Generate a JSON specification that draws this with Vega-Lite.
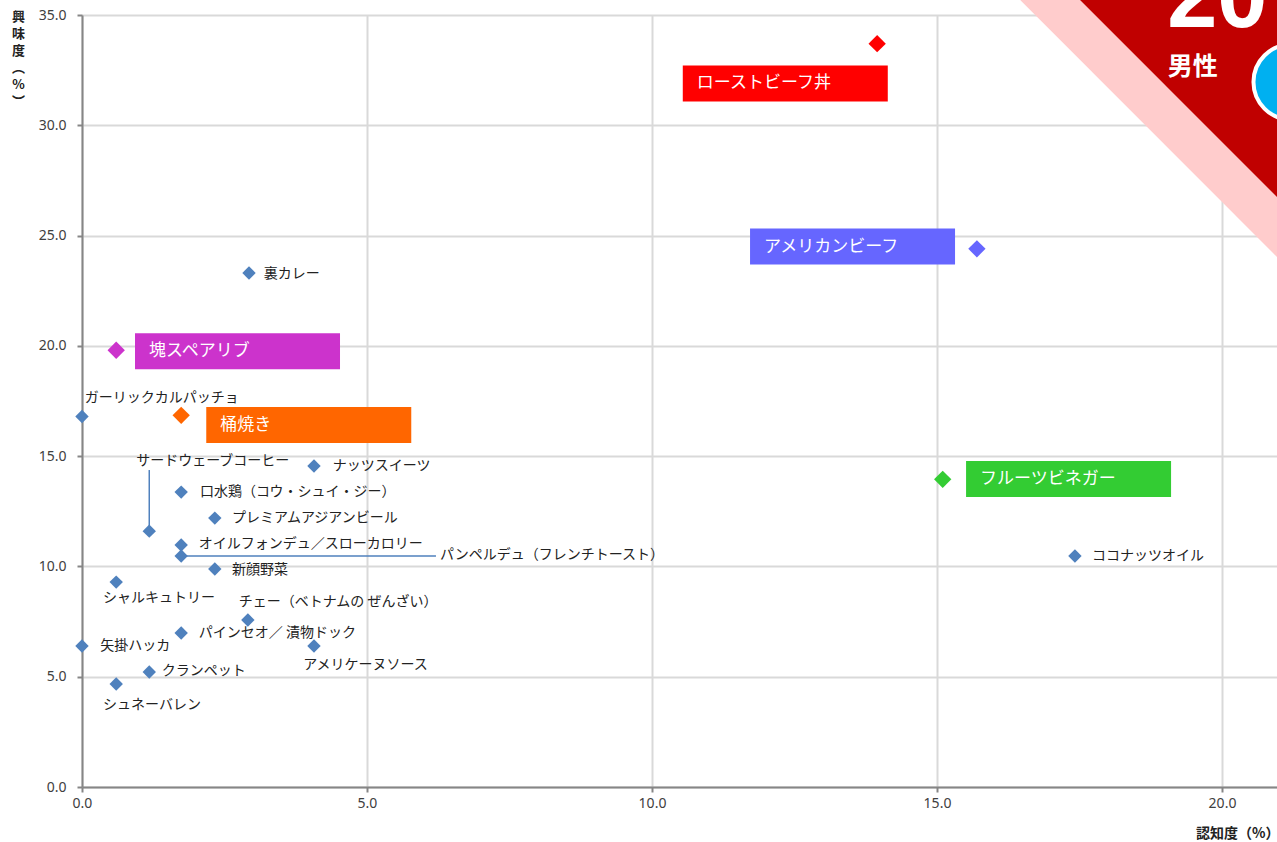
{
  "$schema": "https://vega.github.io/schema/vega-lite/v6.json",
  "autosize": "none",
  "padding": {"left": 82, "top": 15, "right": 0, "bottom": 55},
  "width": 1197,
  "height": 772,
  "background": "white",
  "config": {
    "view": {"stroke": null},
    "font": "Noto Sans CJK JP"
  },
  "datasets": {
    "items": [
      {"name": "ローストビーフ丼", "x": 13.95, "y": 33.7, "lx": 10.54, "ly": 31.9, "featured": true},
      {"name": "アメリカンビーフ", "x": 15.7, "y": 24.4, "lx": 11.72, "ly": 24.5, "featured": true},
      {"name": "裏カレー", "x": 2.93, "y": 23.3, "lx": 3.19, "ly": 23.25, "featured": false},
      {"name": "塊スペアリブ", "x": 0.6, "y": 19.8, "lx": 0.93, "ly": 19.76, "featured": true},
      {"name": "ガーリックカルパッチョ", "x": 0, "y": 16.8, "lx": 0.05, "ly": 17.63, "featured": false},
      {"name": "桶焼き", "x": 1.74, "y": 16.85, "lx": 2.18, "ly": 16.41, "featured": true},
      {"name": "ナッツスイーツ", "x": 4.07, "y": 14.55, "lx": 4.4, "ly": 14.55, "featured": false},
      {"name": "フルーツビネガー", "x": 15.1, "y": 13.95, "lx": 15.51, "ly": 13.96, "featured": true},
      {"name": "口水鶏（コウ・シュイ・ジー）", "x": 1.74, "y": 13.37, "lx": 2.07, "ly": 13.37, "featured": false},
      {"name": "プレミアムアジアンビール", "x": 2.33, "y": 12.19, "lx": 2.63, "ly": 12.19, "featured": false},
      {"name": "サードウェーブコーヒー", "x": 1.18, "y": 11.6, "lx": 0.95, "ly": 14.78, "featured": false},
      {"name": "オイルフォンデュ／スローカロリー", "x": 1.74, "y": 10.97, "lx": 2.05, "ly": 11.0, "featured": false},
      {"name": "パンペルデュ（フレンチトースト）", "x": 1.74, "y": 10.47, "lx": 6.28, "ly": 10.52, "featured": false},
      {"name": "新顔野菜", "x": 2.33, "y": 9.88, "lx": 2.63, "ly": 9.84, "featured": false},
      {"name": "ココナッツオイル", "x": 17.42, "y": 10.47, "lx": 17.72, "ly": 10.47, "featured": false},
      {"name": "シャルキュトリー", "x": 0.6, "y": 9.29, "lx": 0.37, "ly": 8.57, "featured": false},
      {"name": "チェー（ベトナムの ぜんざい）", "x": 2.91, "y": 7.57, "lx": 2.75, "ly": 8.39, "featured": false},
      {"name": "パインセオ／ 漬物ドック", "x": 1.74, "y": 6.98, "lx": 2.05, "ly": 6.98, "featured": false},
      {"name": "矢掛ハッカ", "x": 0, "y": 6.39, "lx": 0.32, "ly": 6.39, "featured": false},
      {"name": "アメリケーヌソース", "x": 4.07, "y": 6.39, "lx": 3.88, "ly": 5.53, "featured": false},
      {"name": "クランペット", "x": 1.18, "y": 5.21, "lx": 1.4, "ly": 5.26, "featured": false},
      {"name": "シュネーバレン", "x": 0.6, "y": 4.67, "lx": 0.37, "ly": 3.72, "featured": false}
    ],
    "leaders": [
      {"x": 1.18, "y": 11.6, "x2": 1.18, "y2": 14.37},
      {"x": 1.74, "y": 10.47, "x2": 6.21, "y2": 10.47}
    ],
    "banner": [
      {"part": "pink", "x": 16.46, "y": 35.68, "y2": 36.5},
      {"part": "pink", "x": 21.3, "y": 23.16, "y2": 36.5},
      {"part": "red", "x": 17.51, "y": 35.68, "y2": 36.5},
      {"part": "red", "x": 21.3, "y": 25.88, "y2": 36.5}
    ],
    "bannerText": [
      {"label": "20", "x": 19.04, "y": 34.45},
      {"label": "男性", "x": 19.05, "y": 32.64}
    ],
    "badge": [
      {"x": 21.21, "y": 31.96}
    ]
  },
  "encoding": {
    "x": {
      "type": "quantitative",
      "scale": {"domain": [0, 21], "nice": false, "zero": false},
      "axis": {
        "title": "認知度（%）",
        "values": [0, 5, 10, 15, 20],
        "format": ".1f",
        "grid": true,
        "gridColor": "#D9D9D9",
        "gridWidth": 2,
        "domainColor": "#868686",
        "domainWidth": 2,
        "tickColor": "#868686",
        "tickWidth": 2,
        "tickSize": 5,
        "labelFlush": false,
        "labelOverlap": false,
        "labelFont": "Noto Sans",
        "labelFontSize": 14,
        "labelColor": "#404040",
        "labelPadding": 4,
        "titleFont": "Noto Sans CJK JP",
        "titleFontSize": 14,
        "titleFontWeight": "bold",
        "titleColor": "#222222",
        "titleAnchor": "end",
        "titleAlign": "right",
        "titleBaseline": "middle",
        "titleX": 1197,
        "titleY": 46
      }
    },
    "y": {
      "type": "quantitative",
      "scale": {"domain": [0, 35], "nice": false, "zero": false},
      "axis": {
        "title": ["興", "味", "度", "︵", "%", "︶"],
        "values": [0, 5, 10, 15, 20, 25, 30, 35],
        "format": ".1f",
        "grid": true,
        "gridColor": "#D9D9D9",
        "gridWidth": 2,
        "domainColor": "#868686",
        "domainWidth": 2,
        "tickColor": "#868686",
        "tickWidth": 2,
        "tickSize": 5,
        "labelFlush": false,
        "labelOverlap": false,
        "labelFont": "Noto Sans",
        "labelFontSize": 14,
        "labelColor": "#404040",
        "labelPadding": 11,
        "titleFont": "Noto Sans CJK JP",
        "titleFontSize": 13,
        "titleFontWeight": "bold",
        "titleColor": "#222222",
        "titleAngle": 0,
        "titleAlign": "center",
        "titleBaseline": "top",
        "titleLineHeight": 17,
        "titleX": -64,
        "titleY": -5
      }
    }
  },
  "layer": [
    {
      "mark": {"type": "rule", "color": "#FF0000", "strokeWidth": 2},
      "encoding": {"y": {"datum": 12.74, "type": "quantitative"}}
    },
    {
      "mark": {"type": "rule", "color": "#FF0000", "strokeWidth": 2},
      "encoding": {"x": {"datum": 20, "type": "quantitative"}}
    },
    {
      "data": {"name": "leaders"},
      "mark": {"type": "rule", "color": "#4F81BD", "strokeWidth": 1.5},
      "encoding": {
        "x": {"field": "x", "type": "quantitative"},
        "y": {"field": "y", "type": "quantitative"},
        "x2": {"field": "x2"},
        "y2": {"field": "y2"}
      }
    },
    {
      "data": {"name": "items"},
      "transform": [{"filter": "!datum.featured"}],
      "mark": {"type": "point", "shape": "diamond", "filled": true, "opacity": 1, "color": "#4F81BD", "size": 180},
      "encoding": {
        "x": {"field": "x", "type": "quantitative"},
        "y": {"field": "y", "type": "quantitative"}
      }
    },
    {
      "data": {"name": "items"},
      "transform": [{"filter": "!datum.featured"}],
      "mark": {"type": "text", "align": "left", "baseline": "middle", "fontSize": 14, "color": "#222222", "font": "Noto Sans CJK JP"},
      "encoding": {
        "x": {"field": "lx", "type": "quantitative"},
        "y": {"field": "ly", "type": "quantitative"},
        "text": {"field": "name"}
      }
    },
    {
      "data": {"name": "items"},
      "transform": [{"filter": "datum.featured"}],
      "mark": {"type": "point", "shape": "diamond", "filled": true, "opacity": 1, "size": 300},
      "encoding": {
        "x": {"field": "x", "type": "quantitative"},
        "y": {"field": "y", "type": "quantitative"},
        "color": {
          "field": "name",
          "type": "nominal",
          "legend": null,
          "scale": {
            "domain": ["ローストビーフ丼", "アメリカンビーフ", "塊スペアリブ", "桶焼き", "フルーツビネガー"],
            "range": ["#FF0000", "#6666FF", "#CC33CC", "#FF6600", "#33CC33"]
          }
        }
      }
    },
    {
      "data": {"name": "items"},
      "transform": [{"filter": "datum.featured"}],
      "mark": {"type": "point", "shape": "M0,-0.1756L2,-0.1756L2,0.1756L0,0.1756Z", "filled": true, "opacity": 1, "size": 42025, "strokeWidth": 0},
      "encoding": {
        "x": {"field": "lx", "type": "quantitative"},
        "y": {"field": "ly", "type": "quantitative"},
        "color": {"field": "name", "type": "nominal", "legend": null}
      }
    },
    {
      "data": {"name": "items"},
      "transform": [{"filter": "datum.featured"}],
      "mark": {"type": "text", "align": "left", "baseline": "middle", "dx": 14, "fontSize": 17, "color": "white", "font": "Noto Sans CJK JP"},
      "encoding": {
        "x": {"field": "lx", "type": "quantitative"},
        "y": {"field": "ly", "type": "quantitative"},
        "text": {"field": "name"}
      }
    },
    {
      "data": {"name": "banner"},
      "transform": [{"filter": "datum.part === 'pink'"}],
      "mark": {"type": "area", "color": "#FFCCCC", "opacity": 1},
      "encoding": {
        "x": {"field": "x", "type": "quantitative"},
        "y": {"field": "y", "type": "quantitative"},
        "y2": {"field": "y2"}
      }
    },
    {
      "data": {"name": "banner"},
      "transform": [{"filter": "datum.part === 'red'"}],
      "mark": {"type": "area", "color": "#C00000", "opacity": 1},
      "encoding": {
        "x": {"field": "x", "type": "quantitative"},
        "y": {"field": "y", "type": "quantitative"},
        "y2": {"field": "y2"}
      }
    },
    {
      "data": {"name": "badge"},
      "mark": {"type": "point", "shape": "circle", "filled": true, "opacity": 1, "color": "#00B0F0", "stroke": "white", "strokeWidth": 4, "size": 5625},
      "encoding": {
        "x": {"field": "x", "type": "quantitative"},
        "y": {"field": "y", "type": "quantitative"}
      }
    },
    {
      "data": {"name": "bannerText"},
      "transform": [{"filter": "datum.label === '20'"}],
      "mark": {"type": "text", "align": "left", "baseline": "alphabetic", "fontSize": 90, "fontWeight": "bold", "color": "white", "font": "Liberation Sans"},
      "encoding": {
        "x": {"field": "x", "type": "quantitative"},
        "y": {"field": "y", "type": "quantitative"},
        "text": {"field": "label"}
      }
    },
    {
      "data": {"name": "bannerText"},
      "transform": [{"filter": "datum.label === '男性'"}],
      "mark": {"type": "text", "align": "left", "baseline": "middle", "fontSize": 25, "fontWeight": "bold", "color": "white", "font": "Noto Sans CJK JP"},
      "encoding": {
        "x": {"field": "x", "type": "quantitative"},
        "y": {"field": "y", "type": "quantitative"},
        "text": {"field": "label"}
      }
    }
  ]
}
